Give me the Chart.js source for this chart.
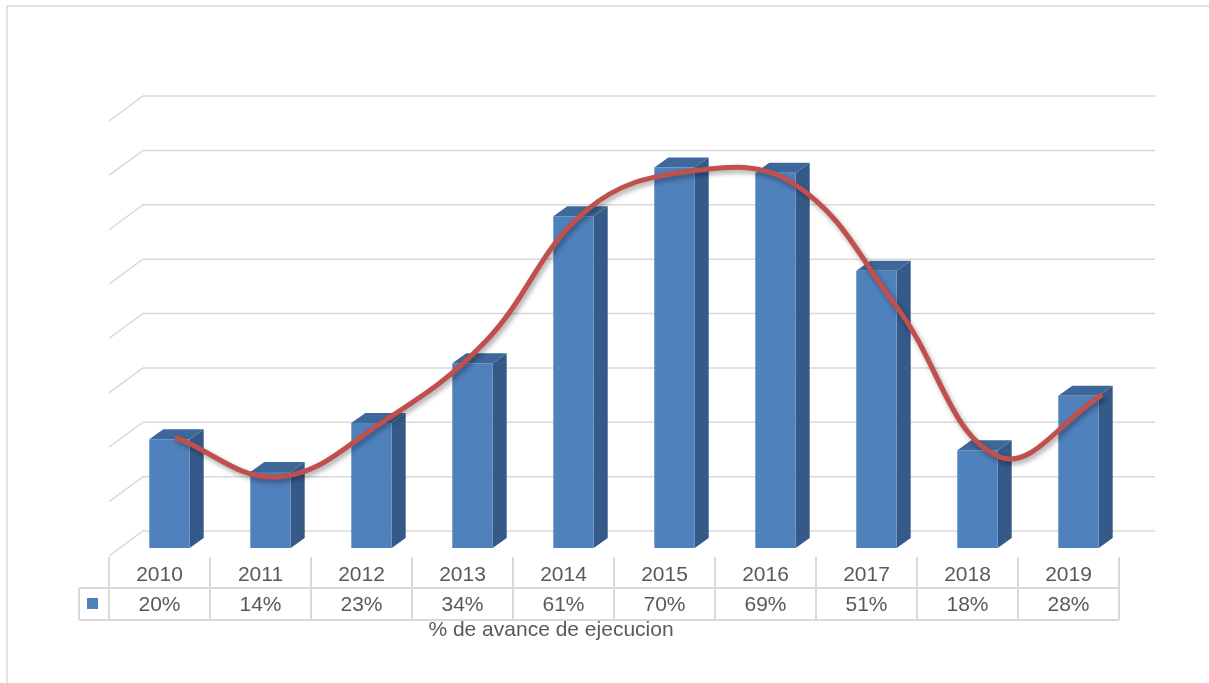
<!DOCTYPE html>
<html>
<head>
<meta charset="utf-8">
<script src="https://cdn.jsdelivr.net/npm/chart.js@4.4.1/dist/chart.umd.min.js"></script>
<style>
  html, body { margin: 0; padding: 0; background: #fff; }
  canvas { display: block; }
</style>
</head>
<body>
<canvas id="chart" width="1209" height="683"></canvas>
<script>
const years = ['2010', '2011', '2012', '2013', '2014', '2015', '2016', '2017', '2018', '2019'];
const avance = [20, 14, 23, 34, 61, 70, 69, 51, 18, 28];
// the red curve is a separate smoothed trend
const tendencia = [20.2, 12.9, 22.8, 37.5, 62, 69.1, 66.9, 44.3, 16.6, 28];
const yMax = 80;
const yStep = 10;
const axisTitle = '% de avance de ejecucion';

const blue = '#4F81BD';
const blueSide = '#355A89';
const blueTop = '#3E6899';
const red = '#C0504D';
const gridColor = '#D9D9D9';
const textColor = '#595959';
const font = '21px "Liberation Sans", Arial, sans-serif';

// offsets for the fake 3d look
const wall = { dx: 34, dy: -25 };   // front floor edge -> back wall
const barShift = { dx: 10, dy: -8 }; // bars sit a little behind the front edge
const barDepth = { dx: 14, dy: -10 };

const depthPlugin = {
    id: 'depth',
    beforeDraw(chart) {
        const ctx = chart.ctx;
        ctx.save();
        ctx.fillStyle = '#fff';
        ctx.fillRect(0, 0, chart.width, chart.height);
        // outer frame
        ctx.strokeStyle = gridColor;
        ctx.lineWidth = 1.5;
        ctx.strokeRect(7, 6, chart.width + 20, chart.height + 20);
        ctx.restore();
    },
    beforeDatasetsDraw(chart) {
        const ctx = chart.ctx;
        const y = chart.scales.y;
        const area = chart.chartArea;
        ctx.save();
        ctx.strokeStyle = gridColor;
        ctx.lineWidth = 1.5;
        y.ticks.forEach(t => {
            const py = y.getPixelForValue(t.value);
            ctx.beginPath();
            ctx.moveTo(area.left, py);
            ctx.lineTo(area.left + wall.dx, py + wall.dy);
            ctx.lineTo(area.right + wall.dx + 2, py + wall.dy);
            ctx.stroke();
        });
        ctx.restore();
    },
    beforeDatasetDraw(chart, args) {
        const ctx = chart.ctx;
        const meta = args.meta;
        if (meta.type === 'bar') {
            ctx.save();
            meta.data.forEach(el => {
                const p = el.getProps(['x', 'y', 'base', 'width'], true);
                const l = p.x - p.width / 2 + barShift.dx;
                const r = p.x + p.width / 2 + barShift.dx;
                const top = p.y + barShift.dy;
                const bot = p.base + barShift.dy;
                ctx.fillStyle = blueSide;
                ctx.beginPath();
                ctx.moveTo(r, top);
                ctx.lineTo(r + barDepth.dx, top + barDepth.dy);
                ctx.lineTo(r + barDepth.dx, bot + barDepth.dy);
                ctx.lineTo(r, bot);
                ctx.closePath();
                ctx.fill();
                ctx.fillStyle = blueTop;
                ctx.beginPath();
                ctx.moveTo(l, top);
                ctx.lineTo(l + barDepth.dx, top + barDepth.dy);
                ctx.lineTo(r + barDepth.dx, top + barDepth.dy);
                ctx.lineTo(r, top);
                ctx.closePath();
                ctx.fill();
            });
            ctx.translate(barShift.dx, barShift.dy);
        } else if (meta.type === 'line') {
            const x0 = chart.scales.x.getPixelForValue(0);
            ctx.save();
            ctx.translate(x0 + 15.5, -9);
            ctx.scale(1.02, 1);
            ctx.translate(-x0, 0);
            ctx.shadowColor = 'rgba(0,0,0,0.35)';
            ctx.shadowBlur = 5;
            ctx.shadowOffsetX = 2;
            ctx.shadowOffsetY = 3;
        }
    },
    afterDatasetDraw(chart) {
        chart.ctx.restore();
    },
    afterDraw(chart) {
        const ctx = chart.ctx;
        const x = chart.scales.x;
        const area = chart.chartArea;
        const colW = x.getPixelForValue(1) - x.getPixelForValue(0);
        const top = area.bottom + 1;
        const mid = area.bottom + 32;
        const bottom = area.bottom + 64;
        const keyLeft = area.left - 30;
        ctx.save();
        ctx.strokeStyle = gridColor;
        ctx.lineWidth = 2;
        ctx.beginPath();
        ctx.moveTo(keyLeft, mid); ctx.lineTo(area.right, mid);
        ctx.moveTo(keyLeft, bottom); ctx.lineTo(area.right, bottom);
        ctx.moveTo(keyLeft, mid); ctx.lineTo(keyLeft, bottom);
        for (let i = 0; i <= years.length; i++) {
            const px = area.left + i * colW;
            ctx.moveTo(px, top); ctx.lineTo(px, bottom);
        }
        ctx.stroke();

        ctx.fillStyle = blue;
        ctx.fillRect(keyLeft + 8, mid + 10, 11, 11);

        ctx.fillStyle = textColor;
        ctx.font = font;
        ctx.textAlign = 'center';
        ctx.textBaseline = 'middle';
        years.forEach((yr, i) => {
            const cx = x.getPixelForValue(i);
            ctx.fillText(yr, cx, (top + mid) / 2 + 3);
            ctx.fillText(avance[i] + '%', cx, (mid + bottom) / 2 + 1);
        });
        ctx.fillText(axisTitle, 551, bottom + 10);
        ctx.restore();
    }
};

new Chart('chart', {
    type: 'bar',
    data: {
        labels: years,
        datasets: [
            {
                type: 'line',
                label: 'tendencia',
                data: tendencia,
                borderColor: red,
                borderWidth: 5,
                pointRadius: 0,
                tension: 0.4,
                fill: false,
                order: 1
            },
            {
                label: '% de avance de ejecucion',
                data: avance,
                backgroundColor: blue,
                borderWidth: 0,
                categoryPercentage: 1,
                barPercentage: 0.4,
                order: 2
            }
        ]
    },
    options: {
        responsive: false,
        animation: false,
        devicePixelRatio: 1,
        layout: { padding: { left: 109, right: 90, top: 121, bottom: 127 } },
        scales: {
            x: { display: false, offset: true },
            y: { display: false, min: 0, max: yMax, ticks: { stepSize: yStep } }
        },
        plugins: {
            legend: { display: false },
            tooltip: { enabled: false }
        }
    },
    plugins: [depthPlugin]
});
</script>
</body>
</html>
